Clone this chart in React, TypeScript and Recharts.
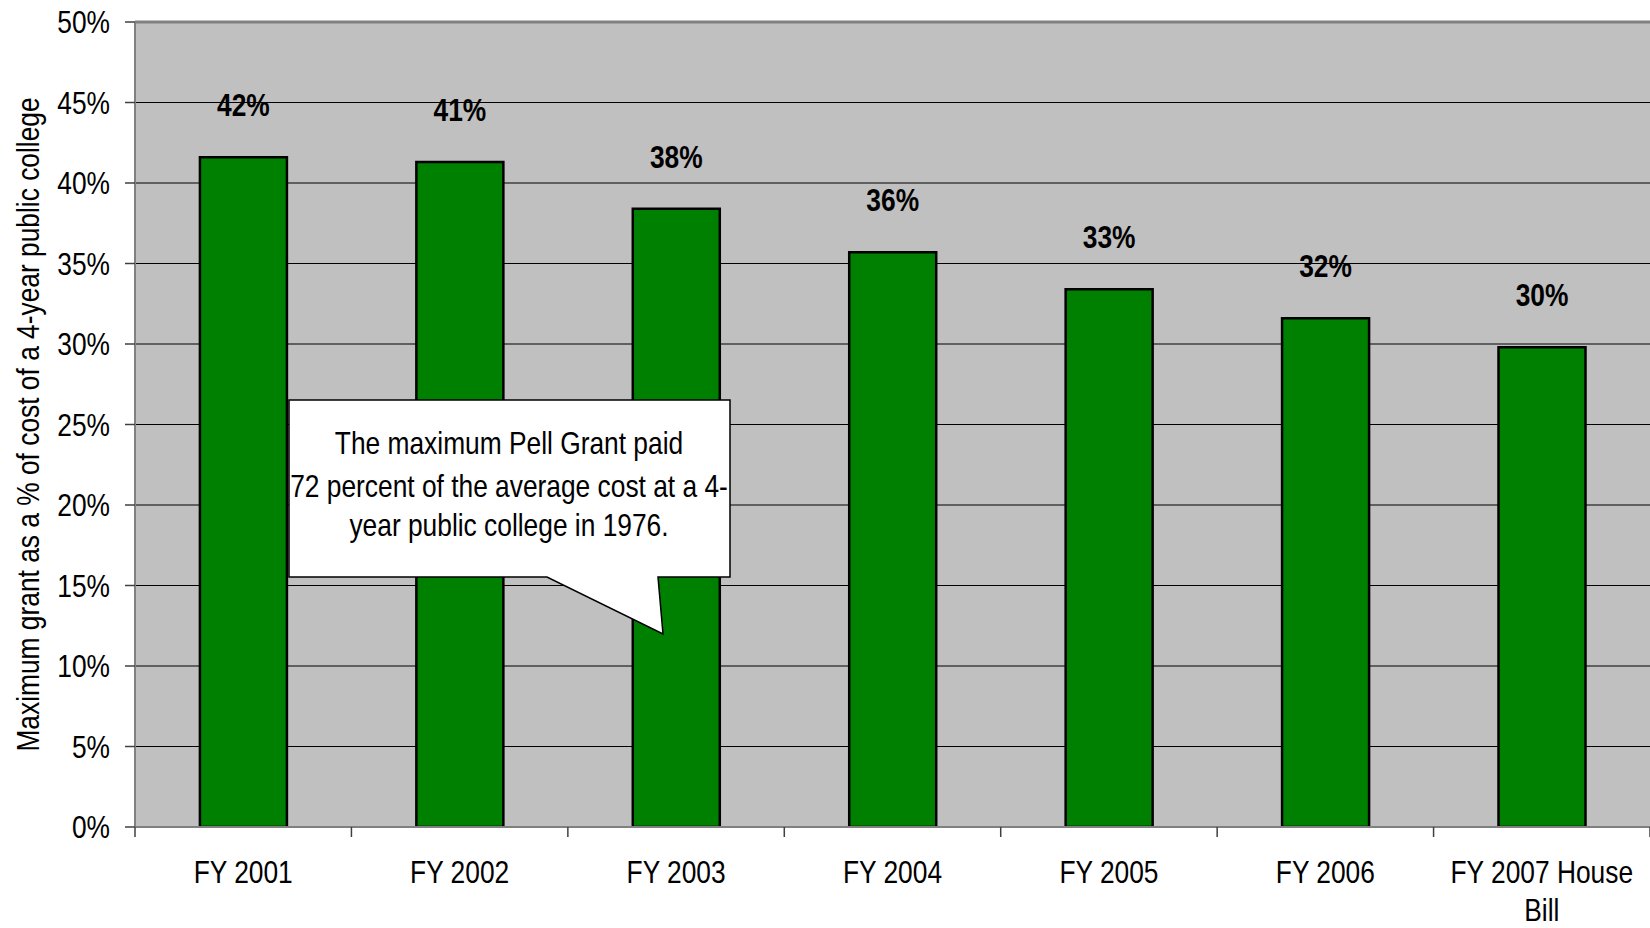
import React from 'react';
import { BarChart, Bar, XAxis, YAxis, CartesianGrid, LabelList, ReferenceLine } from 'recharts';

const categories = ['FY 2001', 'FY 2002', 'FY 2003', 'FY 2004', 'FY 2005', 'FY 2006', 'FY 2007 House Bill'];
const grantShare = [41.6, 41.3, 38.4, 35.7, 33.4, 31.6, 29.8];
const yTicks = [0, 5, 10, 15, 20, 25, 30, 35, 40, 45, 50];
const yAxisTitle = 'Maximum grant as a % of cost of a 4-year public college';
const calloutLines = ['The maximum Pell Grant paid', '72 percent of the average cost at a 4-', 'year public college in 1976.'];

const data = categories.map((c, i) => ({ category: c, value: grantShare[i] }));

const FONT = "'Liberation Sans', Arial, sans-serif";
const FS = 31;
const NARROW = 0.85;
const TICK = 10;

const NText = ({ x, y, anchor = 'middle', size = FS, weight = 'normal', baseline, children }: any) => (
  <text
    transform={`translate(${x} ${y}) scale(${NARROW} 1)`}
    x={0}
    y={0}
    textAnchor={anchor}
    dominantBaseline={baseline}
    fontSize={size}
    fontWeight={weight}
    fontFamily={FONT}
    fill="#000"
  >
    {children}
  </text>
);

const wrapLabel = (s: string, maxChars: number) => {
  const words = s.split(' ');
  const lines: string[] = [];
  let cur = '';
  words.forEach((w) => {
    const next = cur ? cur + ' ' + w : w;
    if (next.length > maxChars && cur) {
      lines.push(cur);
      cur = w;
    } else cur = next;
  });
  if (cur) lines.push(cur);
  return lines;
};

const XTick = (props: any) => {
  const { x, y, payload, index, visibleTicksCount } = props;
  const half = payload && typeof payload.offset === 'number' && payload.offset > 0 ? payload.offset : 108.2;
  const lines = wrapLabel(String(payload.value), 13);
  const axisY = y - TICK;
  const isLast = visibleTicksCount ? index === visibleTicksCount - 1 : index === categories.length - 1;
  return (
    <g>
      <line x1={x - half} x2={x - half} y1={axisY} y2={axisY + TICK} stroke="#404040" strokeWidth={1.5} />
      {isLast && <line x1={x + half} x2={x + half} y1={axisY} y2={axisY + TICK} stroke="#404040" strokeWidth={1.5} />}
      {lines.map((l, i) => (
        <NText key={i} x={x} y={axisY + 56 + i * 38}>
          {l}
        </NText>
      ))}
    </g>
  );
};

const YTick = (props: any) => {
  const { x, y, payload } = props;
  return (
    <NText x={x} y={y + 11} anchor="end">
      {`${payload.value}%`}
    </NText>
  );
};

const BarLabel = (props: any) => {
  const { x, y, width, value } = props;
  return (
    <NText x={x + width / 2} y={y - 41} weight="bold">
      {`${Math.round(value)}%`}
    </NText>
  );
};

const YTitle = (props: any) => {
  const { viewBox } = props;
  const cx = 28;
  const cy = viewBox.y + viewBox.height / 2;
  return (
    <g transform={`rotate(-90 ${cx} ${cy})`}>
      <NText x={cx} y={cy} baseline="central" size={31}>
        {yAxisTitle}
      </NText>
    </g>
  );
};

const Callout = () => {
  const d = 'M289,400 H730 V577 H658 L663,634 L547,577 H289 Z';
  const baselines = [454, 497, 536];
  return (
    <svg width={1650} height={928} style={{ position: 'absolute', left: 0, top: 0, pointerEvents: 'none' }}>
      <path d={d} fill="#fff" stroke="#000" strokeWidth={1.5} />
      {calloutLines.map((t, i) => (
        <NText key={i} x={509} y={baselines[i]}>
          {t}
        </NText>
      ))}
    </svg>
  );
};

export default function App() {
  return (
    <div style={{ position: 'absolute', left: 0, top: 0, width: 1650, height: 928, background: '#fff' }}>
      <BarChart width={1650} height={928} data={data} margin={{ top: 22, right: 0, bottom: 0, left: 0 }} barCategoryGap="30%">
        <CartesianGrid horizontal vertical={false} stroke="#000" strokeWidth={1} fill="#C0C0C0" />
        <XAxis dataKey="category" type="category" tick={<XTick />} tickLine={false} tickSize={TICK} tickMargin={0} axisLine={{ stroke: '#808080', strokeWidth: 2 }} height={101} interval={0} />
        <YAxis
          domain={[0, 50]}
          ticks={yTicks}
          width={135}
          tickSize={10}
          tickMargin={15}
          tick={<YTick />}
          tickLine={{ stroke: '#404040', strokeWidth: 1.5 }}
          axisLine={{ stroke: '#808080', strokeWidth: 2 }}
          label={{ content: <YTitle /> }}
          allowDataOverflow
        />
        <ReferenceLine y={50} stroke="#808080" strokeWidth={3} />
        <Bar dataKey="value" fill="#008000" stroke="#000" strokeWidth={2.5} isAnimationActive={false}>
          <LabelList dataKey="value" content={<BarLabel />} />
        </Bar>
      </BarChart>
      <Callout />
    </div>
  );
}
